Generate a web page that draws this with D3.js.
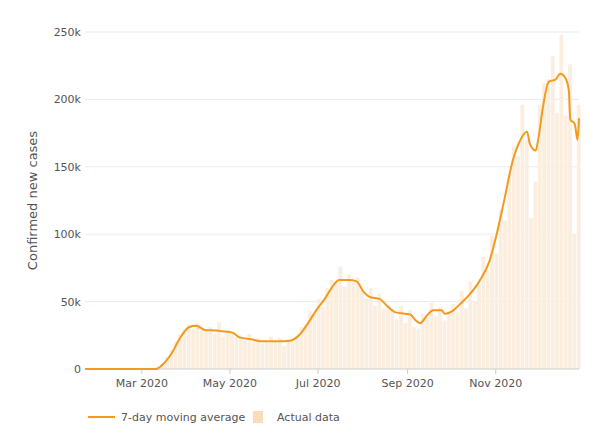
<!DOCTYPE html>
<html>
<head>
<meta charset="utf-8">
<script src="https://cdn.jsdelivr.net/npm/d3@7"></script>
<style>
  body { margin: 0; background: #fff; }
  text { font-family: "DejaVu Sans", Verdana, sans-serif; }
</style>
</head>
<body>
<svg id="chart" width="600" height="436"></svg>
<script>
// 7-day moving average at key dates
var avgDates = ['2020-01-22','2020-03-11','2020-03-15','2020-03-21','2020-03-29','2020-04-03','2020-04-08','2020-04-14','2020-04-22','2020-04-26','2020-05-03','2020-05-08','2020-05-16','2020-05-24','2020-06-04','2020-06-12','2020-06-19','2020-06-25','2020-07-01','2020-07-06','2020-07-10','2020-07-16','2020-07-23','2020-07-28','2020-08-02','2020-08-06','2020-08-13','2020-08-18','2020-08-24','2020-09-03','2020-09-07','2020-09-10','2020-09-15','2020-09-19','2020-09-25','2020-09-27','2020-10-03','2020-10-08','2020-10-14','2020-10-21','2020-10-28','2020-11-02','2020-11-07','2020-11-13','2020-11-18','2020-11-23','2020-11-25','2020-11-29','2020-12-01','2020-12-04','2020-12-08','2020-12-13','2020-12-16','2020-12-20','2020-12-22','2020-12-23','2020-12-26','2020-12-28','2020-12-29'];
var avgValues = [0,0,2500,10000,25000,31000,32000,29000,28500,28000,27000,23500,22000,20500,20500,21000,26000,35000,45000,52000,59000,66000,66000,65000,57000,53500,52000,47000,42000,40500,36000,34000,40000,43500,43500,41000,43500,48500,55000,65000,80000,100000,124000,154000,169000,176000,167000,162000,172000,194000,213000,215000,219000,215000,206000,185000,182000,170000,186000];

// actual daily data, sampled every 3 days from Jan 22
var actualStart = '2020-01-22';
var actualStep = 3;
var actualValues = [0,0,0,0,0,0,0,0,0,0,0,0,0,0,0,100,300,1500,4000,9000,14000,20000,26000,29000,33000,30000,34000,29000,28000,31000,26000,35000,24000,29000,27000,24000,25000,21000,26000,20000,23000,19000,20000,24000,20000,23000,17000,22000,20000,25000,31000,33000,43000,41000,52000,46000,60000,66000,65000,76000,61000,70000,64000,68000,58000,52000,60000,47000,56000,45000,46000,44000,37000,47000,34000,44000,31000,30000,41000,38000,49000,39000,46000,36000,43000,48000,42000,58000,45000,65000,50000,62000,83000,73000,99000,86000,118000,110000,144000,165000,158000,196000,170000,112000,139000,196000,212000,215000,232000,190000,248000,188000,226000,100000,196000];

var yTicks = [0, 50000, 100000, 150000, 200000, 250000];
var xTicks = ['2020-03-01','2020-05-01','2020-07-01','2020-09-01','2020-11-01'];

var parse = d3.timeParse('%Y-%m-%d');
var svg = d3.select('#chart');
var pLeft = 85, pRight = 579, pTop = 32, pBottom = 369;

var x = d3.scaleTime().domain([parse('2020-01-22'), parse('2020-12-29')]).range([pLeft, pRight]);
var y = d3.scaleLinear().domain([0, 250000]).range([pBottom, pTop]);

// grid
svg.append('g').selectAll('line').data(yTicks.slice(1)).enter().append('line')
  .attr('x1', pLeft).attr('x2', pRight)
  .attr('y1', d => y(d)).attr('y2', d => y(d))
  .attr('stroke', '#ebebeb');

svg.append('g').selectAll('text').data(yTicks).enter().append('text')
  .attr('x', pLeft - 4).attr('y', d => y(d) + 4)
  .attr('text-anchor', 'end').attr('font-size', 11).attr('fill', '#555')
  .text(d => d === 0 ? '0' : (d / 1000) + 'k');

svg.append('text')
  .attr('transform', 'translate(37,' + ((pTop + pBottom) / 2) + ') rotate(-90)')
  .attr('text-anchor', 'middle').attr('font-size', 13).attr('fill', '#555')
  .text('Confirmed new cases');

// bars
var start = parse(actualStart);
var dayW = x(d3.timeDay.offset(start, 1)) - x(start);
svg.append('g').selectAll('rect').data(actualValues).enter().append('rect')
  .attr('x', (d, i) => x(d3.timeDay.offset(start, i * actualStep)) - dayW * 1.5)
  .attr('width', dayW * actualStep - 0.6)
  .attr('y', d => y(d))
  .attr('height', d => pBottom - y(d))
  .attr('fill', '#fbeedf');

// baseline + x axis
svg.append('line').attr('x1', pLeft).attr('x2', pRight).attr('y1', pBottom).attr('y2', pBottom).attr('stroke', '#ccc');
var xa = svg.append('g').attr('transform', 'translate(0,' + pBottom + ')')
  .call(d3.axisBottom(x).tickValues(xTicks.map(parse)).tickFormat(d3.timeFormat('%b %Y')).tickSize(5).tickPadding(5));
xa.select('.domain').remove();
xa.selectAll('line').attr('stroke', '#ccc');
xa.selectAll('text').attr('font-size', 11).attr('fill', '#555').style('font-family', '"DejaVu Sans", Verdana, sans-serif');

// moving average line
var line = d3.line().x(d => x(d[0])).y(d => y(d[1])).curve(d3.curveMonotoneX);
svg.append('path')
  .datum(avgDates.map((d, i) => [parse(d), avgValues[i]]))
  .attr('d', line).attr('fill', 'none').attr('stroke', '#f39a1e').attr('stroke-width', 2);

// legend
svg.append('line').attr('x1', 88).attr('x2', 115).attr('y1', 417).attr('y2', 417).attr('stroke', '#f39a1e').attr('stroke-width', 2);
svg.append('text').attr('x', 121).attr('y', 421).attr('font-size', 11).attr('fill', '#555').text('7-day moving average');
svg.append('rect').attr('x', 253).attr('y', 411).attr('width', 10).attr('height', 12).attr('fill', '#fbdcb8');
svg.append('text').attr('x', 277).attr('y', 421).attr('font-size', 11).attr('fill', '#555').text('Actual data');
</script>
</body>
</html>
